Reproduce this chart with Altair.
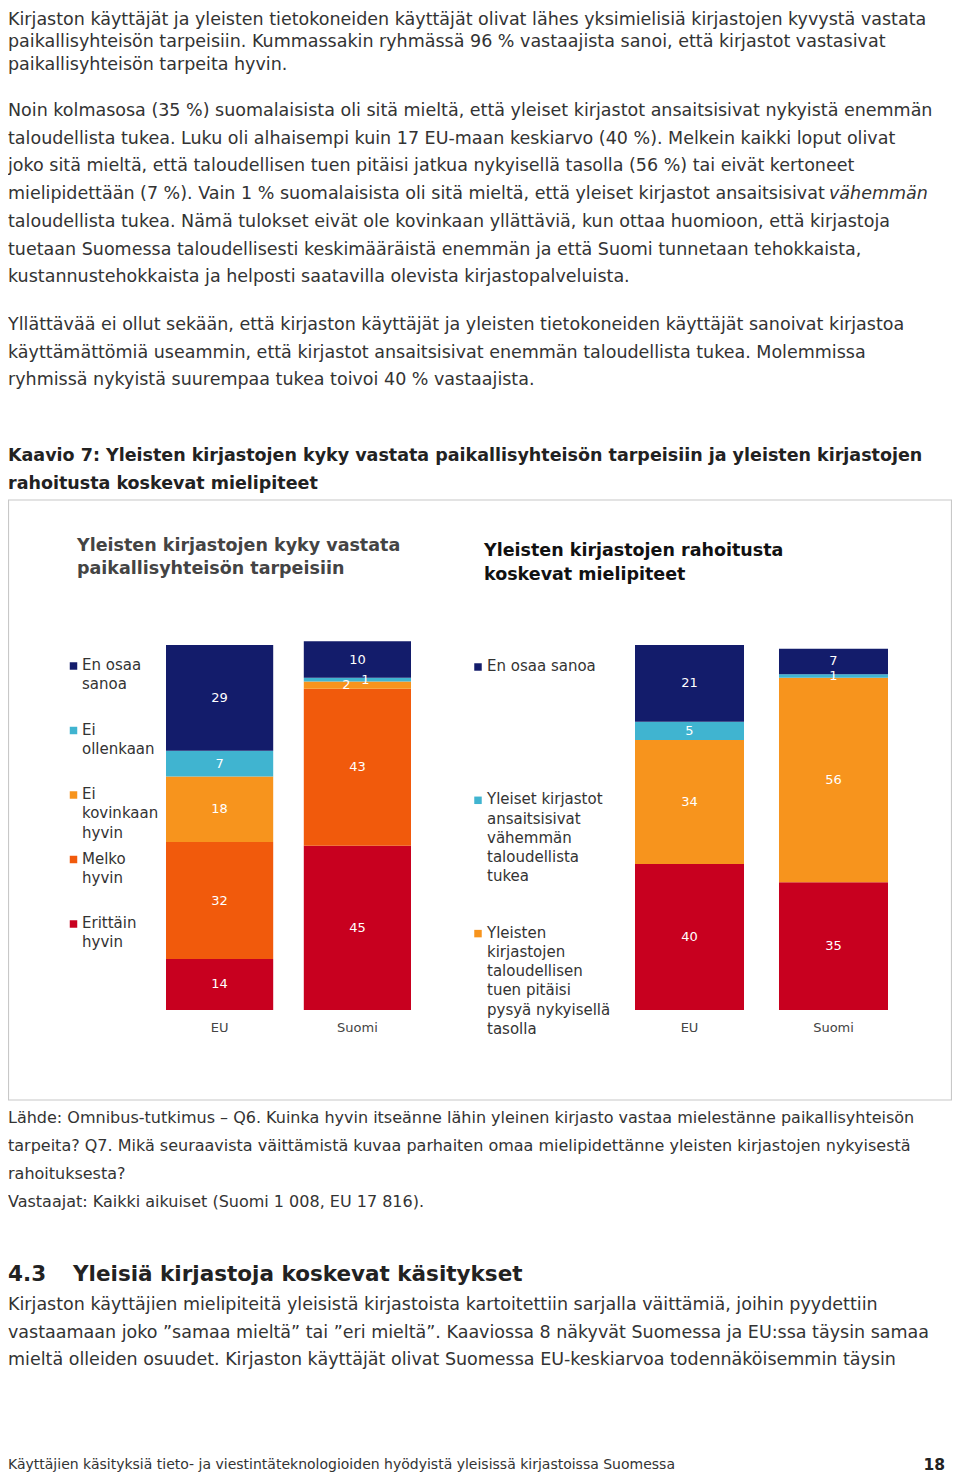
import altair as alt
import pandas as pd

FONT = "DejaVu Sans"
TXT = "#333333"

# ---------------- page text ----------------
para1 = [
    "Kirjaston käyttäjät ja yleisten tietokoneiden käyttäjät olivat lähes yksimielisiä kirjastojen kyvystä vastata",
    "paikallisyhteisön tarpeisiin. Kummassakin ryhmässä 96 % vastaajista sanoi, että kirjastot vastasivat",
    "paikallisyhteisön tarpeita hyvin.",
]
para2 = [
    "Noin kolmasosa (35 %) suomalaisista oli sitä mieltä, että yleiset kirjastot ansaitsisivat nykyistä enemmän",
    "taloudellista tukea. Luku oli alhaisempi kuin 17 EU-maan keskiarvo (40 %). Melkein kaikki loput olivat",
    "joko sitä mieltä, että taloudellisen tuen pitäisi jatkua nykyisellä tasolla (56 %) tai eivät kertoneet",
    "mielipidettään (7 %). Vain 1 % suomalaisista oli sitä mieltä, että yleiset kirjastot ansaitsisivat",
    "taloudellista tukea. Nämä tulokset eivät ole kovinkaan yllättäviä, kun ottaa huomioon, että kirjastoja",
    "tuetaan Suomessa taloudellisesti keskimääräistä enemmän ja että Suomi tunnetaan tehokkaista,",
    "kustannustehokkaista ja helposti saatavilla olevista kirjastopalveluista.",
]
para2_italic = ["vähemmän"]
para3 = [
    "Yllättävää ei ollut sekään, että kirjaston käyttäjät ja yleisten tietokoneiden käyttäjät sanoivat kirjastoa",
    "käyttämättömiä useammin, että kirjastot ansaitsisivat enemmän taloudellista tukea. Molemmissa",
    "ryhmissä nykyistä suurempaa tukea toivoi 40 % vastaajista.",
]
figure_title = [
    "Kaavio 7: Yleisten kirjastojen kyky vastata paikallisyhteisön tarpeisiin ja yleisten kirjastojen",
    "rahoitusta koskevat mielipiteet",
]
left_title = ["Yleisten kirjastojen kyky vastata", "paikallisyhteisön tarpeisiin"]
right_title = ["Yleisten kirjastojen rahoitusta", "koskevat mielipiteet"]
source_note = [
    "Lähde: Omnibus-tutkimus – Q6. Kuinka hyvin itseänne lähin yleinen kirjasto vastaa mielestänne paikallisyhteisön",
    "tarpeita? Q7. Mikä seuraavista väittämistä kuvaa parhaiten omaa mielipidettänne yleisten kirjastojen nykyisestä",
    "rahoituksesta?",
    "Vastaajat: Kaikki aikuiset (Suomi 1 008, EU 17 816).",
]
section_number = ["4.3"]
section_title = ["Yleisiä kirjastoja koskevat käsitykset"]
para4 = [
    "Kirjaston käyttäjien mielipiteitä yleisistä kirjastoista kartoitettiin sarjalla väittämiä, joihin pyydettiin",
    "vastaamaan joko ”samaa mieltä” tai ”eri mieltä”. Kaaviossa 8 näkyvät Suomessa ja EU:ssa täysin samaa",
    "mieltä olleiden osuudet. Kirjaston käyttäjät olivat Suomessa EU-keskiarvoa todennäköisemmin täysin",
]
footer_text = ["Käyttäjien käsityksiä tieto- ja viestintäteknologioiden hyödyistä yleisissä kirjastoissa Suomessa"]
page_number = ["18"]

# ---------------- chart data ----------------
regions = ["EU", "Suomi"]

left_series = ["Erittäin hyvin", "Melko hyvin", "Ei kovinkaan hyvin", "Ei ollenkaan", "En osaa sanoa"]
left_eu = [14, 32, 18, 7, 29]
left_fi = [45, 43, 2, 1, 10]
left_colors = ["#c8001f", "#f15a0c", "#f7941d", "#40b4d0", "#131c6b"]
left_legend_series = ["En osaa sanoa", "Ei ollenkaan", "Ei kovinkaan hyvin", "Melko hyvin", "Erittäin hyvin"]
left_legend_labels = ["En osaa\nsanoa", "Ei\nollenkaan", "Ei\nkovinkaan\nhyvin", "Melko\nhyvin", "Erittäin\nhyvin"]

right_series = [
    "Yleiset kirjastot ansaitsisivat enemmän taloudellista tukea",
    "Yleisten kirjastojen taloudellisen tuen pitäisi pysyä nykyisellä tasolla",
    "Yleiset kirjastot ansaitsisivat vähemmän taloudellista tukea",
    "En osaa sanoa",
]
right_eu = [40, 34, 5, 21]
right_fi = [35, 56, 1, 7]
right_colors = ["#c8001f", "#f7941d", "#40b4d0", "#131c6b"]
right_legend_series = [
    "En osaa sanoa",
    "Yleiset kirjastot ansaitsisivat vähemmän taloudellista tukea",
    "Yleisten kirjastojen taloudellisen tuen pitäisi pysyä nykyisellä tasolla",
]
right_legend_labels = [
    "En osaa sanoa",
    "Yleiset kirjastot\nansaitsisivat\nvähemmän\ntaloudellista\ntukea",
    "Yleisten\nkirjastojen\ntaloudellisen\ntuen pitäisi\npysyä nykyisellä\ntasolla",
]

LEFT = 6  # first visible x inside the chart


def text_block(lines, x, y0, lh, size, weight="normal", color=TXT, style="normal", align="left"):
    df = pd.DataFrame({"line": lines, "i": list(range(len(lines)))})
    return (
        alt.Chart(df)
        .transform_calculate(py=f"{y0} + datum.i * {lh}")
        .mark_text(align=align, baseline="middle", font=FONT, fontSize=size,
                   fontWeight=weight, fontStyle=style, color=color)
        .encode(x=alt.value(x), y=alt.Y("py:Q", scale=None, axis=None), text="line:N")
    )


def panel(series, eu_vals, fi_vals, colors, leg_series, leg_labels, band_range, pad_inner,
          sq_x, tx_x, leg_y0, leg_step, specials):
    rows = []
    for region, vals in zip(regions, [eu_vals, fi_vals]):
        for k, (s, v) in enumerate(zip(series, vals)):
            rows.append({"region": region, "series": s, "value": v, "ord": k})
    df = pd.DataFrame(rows)
    xs = alt.Scale(domain=regions, range=band_range, paddingInner=pad_inner, paddingOuter=0)
    ys = alt.Scale(domain=[0, 100], range=[1010, 645], nice=False, zero=True)
    cs = alt.Scale(domain=series, range=colors)
    X = alt.X("region:N", scale=xs, axis=None, sort=regions)
    base = (
        alt.Chart(df)
        .transform_stack(stack="value", groupby=["region"],
                         sort=[alt.SortField("ord", order="ascending")], as_=["v0", "v1"])
        .transform_calculate(mid="(datum.v0 + datum.v1) / 2")
    )
    bars = base.mark_bar(strokeWidth=0).encode(
        x=X,
        y=alt.Y("v0:Q", scale=ys, axis=None),
        y2="v1:Q",
        color=alt.Color("series:N", scale=cs, legend=None),
    )
    layers = [bars]
    for flt, dx, dy in specials:
        layers.append(
            base.transform_filter(flt)
            .mark_text(font=FONT, fontSize=13, color="white", baseline="middle", dx=dx, dy=dy)
            .encode(x=X, y=alt.Y("mid:Q", scale=ys, axis=None), text="value:Q")
        )
    layers.append(
        base.transform_filter("datum.ord == 0")
        .mark_text(font=FONT, fontSize=13, color="#444444", baseline="middle")
        .encode(x=X, y=alt.value(1028), text="region:N")
    )
    ldf = pd.DataFrame({"series": leg_series, "label": leg_labels, "k": list(range(len(leg_series)))})
    leg = alt.Chart(ldf).transform_calculate(
        py=f"{leg_y0} + datum.k * {leg_step}", ty=f"{leg_y0 - 8} + datum.k * {leg_step}"
    )
    layers.append(
        leg.mark_square(size=56, opacity=1).encode(
            x=alt.value(sq_x), y=alt.Y("py:Q", scale=None, axis=None),
            color=alt.Color("series:N", scale=cs, legend=None))
    )
    layers.append(
        leg.mark_text(align="left", baseline="top", font=FONT, fontSize=15, color=TXT,
                      lineBreak="\n", lineHeight=19.3)
        .encode(x=alt.value(tx_x), y=alt.Y("ty:Q", scale=None, axis=None), text="label:N")
    )
    return alt.layer(*layers)


left_panel = panel(
    left_series, left_eu, left_fi, left_colors, left_legend_series, left_legend_labels,
    [164, 409], 0.222, 71.5, 80, 666, 64.5,
    [("datum.value > 2", 0, 0), ("datum.value == 2", -11, 0), ("datum.value == 1", 8, 0)],
)
right_panel = panel(
    right_series, right_eu, right_fi, right_colors, right_legend_series, right_legend_labels,
    [633, 886], 0.243, 476, 485, 667, 133.3,
    [("true", 0, 0)],
)

box = alt.Chart(pd.DataFrame({"a": [0]})).mark_rect(
    fill="white", stroke="#c8c8c8", strokeWidth=1.2
).encode(x=alt.value(LEFT + 0.5), x2=alt.value(949.5), y=alt.value(500), y2=alt.value(1100))

layers = [
    box,
    text_block(para1, LEFT, 19.5, 22.5, 17.5),
    text_block(para2, LEFT, 111, 27.7, 17.5),
    text_block(para2_italic, 827, 194, 27.7, 17.5, style="italic"),
    text_block(para3, LEFT, 325, 27.6, 17.5),
    text_block(figure_title, LEFT, 456, 28, 17.5, weight="bold", color="#222222"),
    text_block(left_title, 75, 546, 23, 17.5, weight="bold", color="#444444"),
    text_block(right_title, 482, 551, 24, 17.5, weight="bold", color="#111111"),
    left_panel,
    right_panel,
    text_block(source_note, LEFT, 1118, 28, 16),
    text_block(section_number, LEFT, 1275, 28, 21.5, weight="bold", color="#222222"),
    text_block(section_title, 71, 1275, 28, 21.5, weight="bold", color="#222222"),
    text_block(para4, LEFT, 1305, 27.6, 17.5),
    text_block(footer_text, LEFT, 1465, 28, 14),
    text_block(page_number, 943, 1465, 28, 15.5, weight="bold", color="#222222", align="right"),
]

chart = (
    alt.layer(*layers)
    .resolve_scale(x="independent", y="independent", color="independent")
    .properties(
        width=950,
        height=1474,
        autosize=alt.AutoSizeParams(type="none"),
        padding={"left": -6, "top": -8, "right": 0, "bottom": 0},
    )
    .configure_view(stroke=None)
    .configure(background="white")
)

chart.save("out.html", embed_options={"renderer": "svg", "actions": False})
